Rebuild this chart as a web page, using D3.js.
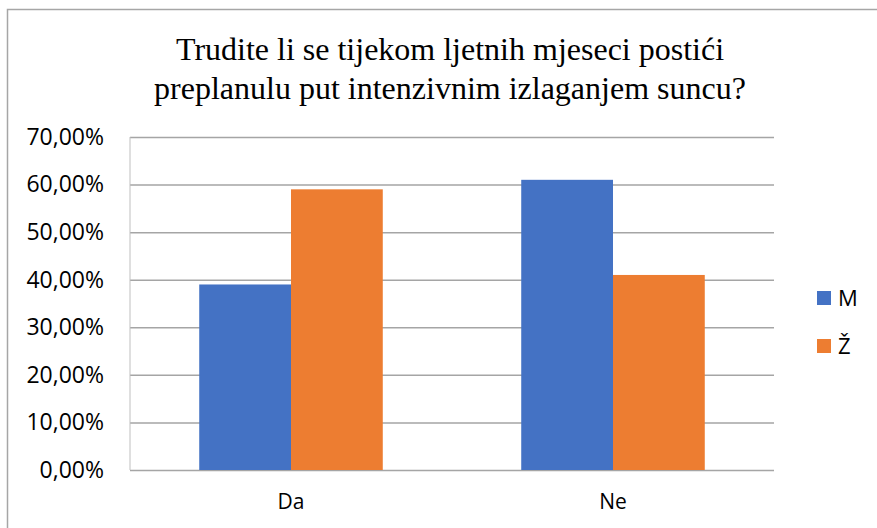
<!DOCTYPE html>
<html>
<head>
<meta charset="utf-8">
<script src="https://cdn.jsdelivr.net/npm/d3@7"></script>
<style>
	body { margin: 0; background: #fff; }
	svg { display: block; }
</style>
</head>
<body>
<svg id="chart"></svg>
<script>
// data
const categories = ["Da", "Ne"]
const seriesNames = ["M", "Ž"]
const valuesM = [0.39, 0.61]
const valuesZ = [0.59, 0.41]
const yTicks = [0, 0.1, 0.2, 0.3, 0.4, 0.5, 0.6, 0.7]
const titleLines = ["Trudite li se tijekom ljetnih mjeseci postići", "preplanulu put intenzivnim izlaganjem suncu?"]
const colors = ["#4472C4", "#ED7D31"]

const width = 877, height = 528
const margin = {top: 137, right: 103, bottom: 58, left: 130}
const plotWidth = width - margin.left - margin.right
const plotHeight = height - margin.top - margin.bottom
const sans = "'Open Sans', sans-serif"

const svg = d3.select("#chart").attr("width", width).attr("height", height)

// outer frame (cropped on the right and bottom)
svg.append("path")
	.attr("d", "M7.5," + height + "V9.5H" + width)
	.attr("fill", "none")
	.attr("stroke", "#a6a6a6")
	.attr("stroke-width", 1.5)

svg.append("g")
	.selectAll("text")
	.data(titleLines)
	.join("text")
	.attr("x", 450)
	.attr("y", (d, i) => 60 + i * 39)
	.attr("text-anchor", "middle")
	.attr("font-family", "'Liberation Serif', 'Times New Roman', serif")
	.attr("font-size", 32)
	.attr("fill", "#000")
	.text(d => d)

const plot = svg.append("g")
	.attr("transform", "translate(" + margin.left + "," + margin.top + ")")

const x = d3.scaleBand().domain(categories).range([0, plotWidth]).paddingInner(0.43).paddingOuter(0.215)
const xSub = d3.scaleBand().domain(seriesNames).range([0, x.bandwidth()])
const y = d3.scaleLinear().domain([0, 0.7]).range([plotHeight, 0])

const fmt = v => d3.format(".2f")(v * 100).replace(".", ",") + "%"

// gridlines + y labels
const yAxis = plot.append("g")
	.call(d3.axisLeft(y).tickValues(yTicks).tickSize(-plotWidth).tickFormat(fmt).tickPadding(26))
yAxis.select(".domain").remove()
yAxis.selectAll(".tick line").attr("stroke", "#a5a5a5").attr("stroke-width", 1.5)
yAxis.selectAll(".tick text")
	.attr("font-family", sans)
	.attr("font-size", 23)
	.attr("fill", "#000")

// left border of plot area
plot.append("line")
	.attr("x1", 0).attr("x2", 0)
	.attr("y1", y(0.7)).attr("y2", y(0))
	.attr("stroke", "#bfbfbf")
	.attr("stroke-width", 1)

const rows = categories.map((c, i) => ({cat: c, vals: [valuesM[i], valuesZ[i]]}))

plot.append("g")
	.selectAll("g")
	.data(rows)
	.join("g")
	.attr("transform", d => "translate(" + x(d.cat) + ",0)")
	.selectAll("rect")
	.data(d => d.vals.map((v, i) => ({name: seriesNames[i], value: v, i: i})))
	.join("rect")
	.attr("x", d => xSub(d.name))
	.attr("y", d => y(d.value))
	.attr("width", xSub.bandwidth())
	.attr("height", d => y(0) - y(d.value))
	.attr("fill", d => colors[d.i])

// x labels
const xAxis = plot.append("g")
	.attr("transform", "translate(0," + plotHeight + ")")
	.call(d3.axisBottom(x).tickSize(0).tickPadding(24))
xAxis.select(".domain").remove()
xAxis.selectAll(".tick text")
	.attr("font-family", sans)
	.attr("font-size", 21)
	.attr("fill", "#000")

// legend
const legend = svg.append("g")
	.selectAll("g")
	.data(seriesNames)
	.join("g")
	.attr("transform", (d, i) => "translate(817," + (291 + i * 48) + ")")
legend.append("rect")
	.attr("width", 14).attr("height", 14)
	.attr("fill", (d, i) => colors[i])
legend.append("text")
	.attr("x", 21).attr("y", 15)
	.attr("font-family", sans)
	.attr("font-size", 22)
	.attr("fill", "#000")
	.text(d => d)
</script>
</body>
</html>
